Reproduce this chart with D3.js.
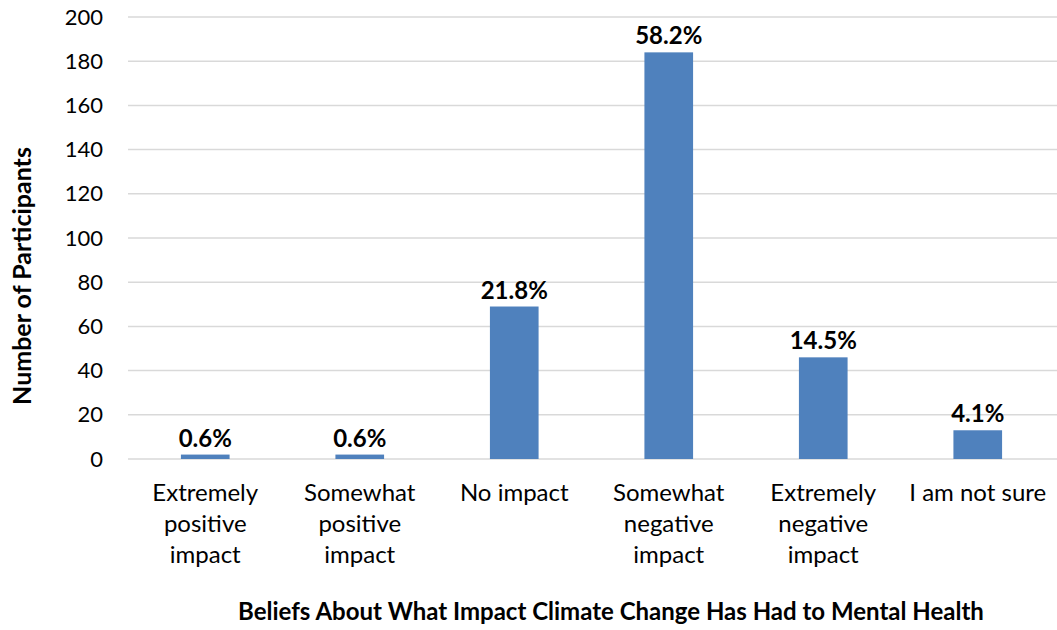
<!DOCTYPE html>
<html>
<head>
<meta charset="utf-8">
<script src="https://cdn.jsdelivr.net/npm/d3@7"></script>
<style>
  body { margin: 0; background: #fff; }
  svg text { font-family: Lato, "Open Sans", sans-serif; fill: #000; }
</style>
</head>
<body>
<div id="chart"></div>
<script>
// data
const categories = [
  ['Extremely', 'positive', 'impact'],
  ['Somewhat', 'positive', 'impact'],
  ['No impact'],
  ['Somewhat', 'negative', 'impact'],
  ['Extremely', 'negative', 'impact'],
  ['I am not sure']
];
const counts = [2, 2, 69, 184, 46, 13];
const pctLabels = ['0.6%', '0.6%', '21.8%', '58.2%', '14.5%', '4.1%'];
const yTicks = [0, 20, 40, 60, 80, 100, 120, 140, 160, 180, 200];

const W = 1057, H = 630;
const margin = { top: 17, right: 2, bottom: 171, left: 128 };

const svg = d3.select('#chart').append('svg')
  .attr('width', W)
  .attr('height', H);

const x = d3.scaleBand()
  .domain(d3.range(categories.length))
  .range([margin.left, margin.left + 927])
  .paddingInner(0.685)
  .paddingOuter(0.3425);

const y = d3.scaleLinear()
  .domain([0, 200])
  .range([H - margin.bottom, margin.top]);

// gridlines
svg.append('g')
  .selectAll('line')
  .data(yTicks)
  .join('line')
  .attr('x1', margin.left)
  .attr('x2', W)
  .attr('y1', d => y(d))
  .attr('y2', d => y(d))
  .attr('stroke', '#d9d9d9')
  .attr('stroke-width', 1.5);

// y tick labels
const yAxis = svg.append('g')
  .attr('transform', `translate(${margin.left - 25},0)`)
  .call(d3.axisLeft(y).tickValues(yTicks).tickSize(0).tickPadding(0));
yAxis.select('.domain').remove();
yAxis.selectAll('text')
  .style('font-family', 'Lato, "Open Sans", sans-serif')
  .style('font-size', '22px')
  .attr('fill', '#000');

// bars
svg.append('g')
  .selectAll('rect')
  .data(counts)
  .join('rect')
  .attr('x', (d, i) => x(i))
  .attr('y', d => y(d))
  .attr('width', x.bandwidth())
  .attr('height', d => y(0) - y(d))
  .attr('fill', '#4f81bd');

// percentage labels
svg.append('g')
  .selectAll('text')
  .data(counts)
  .join('text')
  .attr('x', (d, i) => x(i) + x.bandwidth() / 2)
  .attr('y', d => y(d) - 8)
  .attr('text-anchor', 'middle')
  .style('font-size', '24px')
  .style('font-weight', 'bold')
  .text((d, i) => pctLabels[i]);

// category labels
const cat = svg.append('g')
  .selectAll('text')
  .data(categories)
  .join('text')
  .attr('x', (d, i) => x(i) + x.bandwidth() / 2)
  .attr('y', 501)
  .attr('text-anchor', 'middle')
  .style('font-size', '24px');
cat.selectAll('tspan')
  .data(d => d)
  .join('tspan')
  .attr('x', function () { return d3.select(this.parentNode).attr('x'); })
  .attr('dy', (d, i) => i === 0 ? 0 : 31)
  .text(d => d);

// axis titles
svg.append('text')
  .attr('x', 611)
  .attr('y', 620)
  .attr('text-anchor', 'middle')
  .style('font-size', '24px')
  .style('font-weight', 'bold')
  .text('Beliefs About What Impact Climate Change Has Had to Mental Health');

svg.append('text')
  .attr('transform', 'translate(31,276) rotate(-90)')
  .attr('text-anchor', 'middle')
  .style('font-size', '25px')
  .style('font-weight', 'bold')
  .text('Number of Participants');
</script>
</body>
</html>
